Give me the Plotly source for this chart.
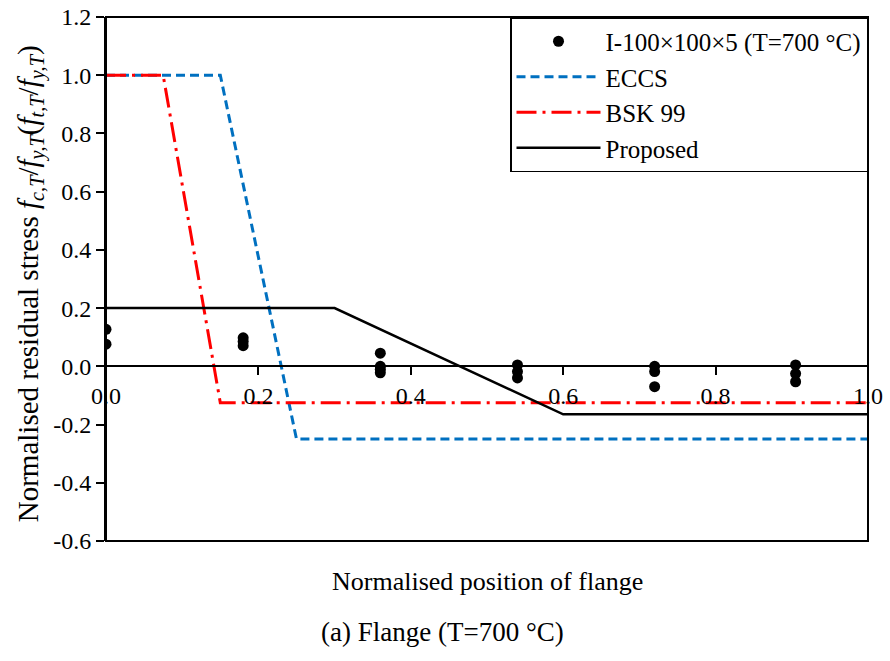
import plotly.graph_objects as go

# Test data (normalised position, normalised residual stress)
test_x = [0.0, 0.0,
          0.18, 0.18, 0.18,
          0.36, 0.36, 0.36, 0.36,
          0.54, 0.54, 0.54,
          0.72, 0.72, 0.72,
          0.905, 0.905, 0.905]
test_y = [0.127, 0.076,
          0.098, 0.085, 0.071,
          0.045, 0.0, -0.01, -0.022,
          0.005, -0.018, -0.04,
          0.0, -0.018, -0.07,
          0.005, -0.025, -0.053]

eccs_x = [0.0, 0.15, 0.25, 1.0]
eccs_y = [1.0, 1.0, -0.25, -0.25]

bsk_x = [0.0, 0.075, 0.15, 1.0]
bsk_y = [1.0, 1.0, -0.125, -0.125]

prop_x = [0.0, 0.3, 0.6, 1.0]
prop_y = [0.2, 0.2, -0.165, -0.165]

y_ticks = [-0.6, -0.4, -0.2, 0.0, 0.2, 0.4, 0.6, 0.8, 1.0, 1.2]
y_tick_text = ["-0.6", "-0.4", "-0.2", "0.0", "0.2", "0.4", "0.6", "0.8", "1.0", "1.2"]
x_ticks = [0.0, 0.2, 0.4, 0.6, 0.8, 1.0]
x_tick_text = ["0.0", "0.2", "0.4", "0.6", "0.8", "1.0"]

FONT = "Liberation Serif"

fig = go.Figure()
fig.add_trace(go.Scatter(x=test_x, y=test_y, mode="markers",
                         name="I-100×100×5 (T=700 °C)",
                         marker=dict(color="black", size=11)))
fig.add_trace(go.Scatter(x=eccs_x, y=eccs_y, mode="lines", name="ECCS",
                         line=dict(color="#0070C0", width=3, dash="9px,5px")))
fig.add_trace(go.Scatter(x=bsk_x, y=bsk_y, mode="lines", name="BSK 99",
                         line=dict(color="#FF0000", width=3, dash="20px,6px,3px,6px")))
fig.add_trace(go.Scatter(x=prop_x, y=prop_y, mode="lines", name="Proposed",
                         line=dict(color="black", width=2.5)))

fig.update_layout(
    width=890, height=661,
    margin=dict(l=106, r=22, t=17, b=120),
    plot_bgcolor="white", paper_bgcolor="white",
    font=dict(family=FONT, size=24, color="black"),
    showlegend=True,
    legend=dict(x=1, y=1, xanchor="right", yanchor="top",
                bgcolor="white", bordercolor="black", borderwidth=1.5,
                font=dict(family=FONT, size=25, color="black"),
                itemwidth=84, tracegroupgap=0),
    xaxis=dict(range=[0, 1], tickvals=x_ticks, ticktext=x_tick_text,
               anchor="free", position=1/3, automargin=False,
               showline=True, linecolor="black", linewidth=2,
               ticks="outside", ticklen=8, tickwidth=1.5, tickcolor="black",
               ticklabelstandoff=0,
               showgrid=False, zeroline=False,
               tickfont=dict(family=FONT, size=24, color="black")),
    yaxis=dict(range=[-0.6, 1.2], tickvals=y_ticks, ticktext=y_tick_text,
               automargin=False,
               showline=True, linecolor="black", linewidth=2,
               ticks="outside", ticklen=8, tickwidth=1.5, tickcolor="black",
               showgrid=False, zeroline=False,
               tickfont=dict(family=FONT, size=24, color="black")),
    shapes=[dict(type="rect", xref="paper", yref="paper", x0=0, x1=1, y0=0, y1=1,
                 line=dict(color="black", width=2), layer="above")],
    annotations=[
        dict(text="Normalised position of flange", xref="paper", yref="paper",
             x=0.5, y=-0.078, xanchor="center", yanchor="middle", showarrow=False,
             font=dict(family=FONT, size=26, color="black")),
        dict(text="(a) Flange (T=700 °C)", xref="paper", yref="paper",
             x=(442 - 106) / 762, y=-0.174, xanchor="center", yanchor="middle", showarrow=False,
             font=dict(family=FONT, size=27, color="black")),
        dict(text="Normalised residual stress <i>f</i><sub><i>c,T</i></sub>/<i>f</i><sub><i>y,T</i></sub>"
                  "(<i>f</i><sub><i>t,T</i></sub>/<i>f</i><sub><i>y,T</i></sub>)",
             xref="paper", yref="paper", x=(30 - 106) / 762, y=0.49,
             xanchor="center", yanchor="middle", textangle=-90, showarrow=False,
             font=dict(family=FONT, size=29, color="black")),
    ],
)

fig.write_html("out.html",
               config={"displayModeBar": False},
               post_script="document.body.style.margin='0px';document.body.style.padding='0px';")
